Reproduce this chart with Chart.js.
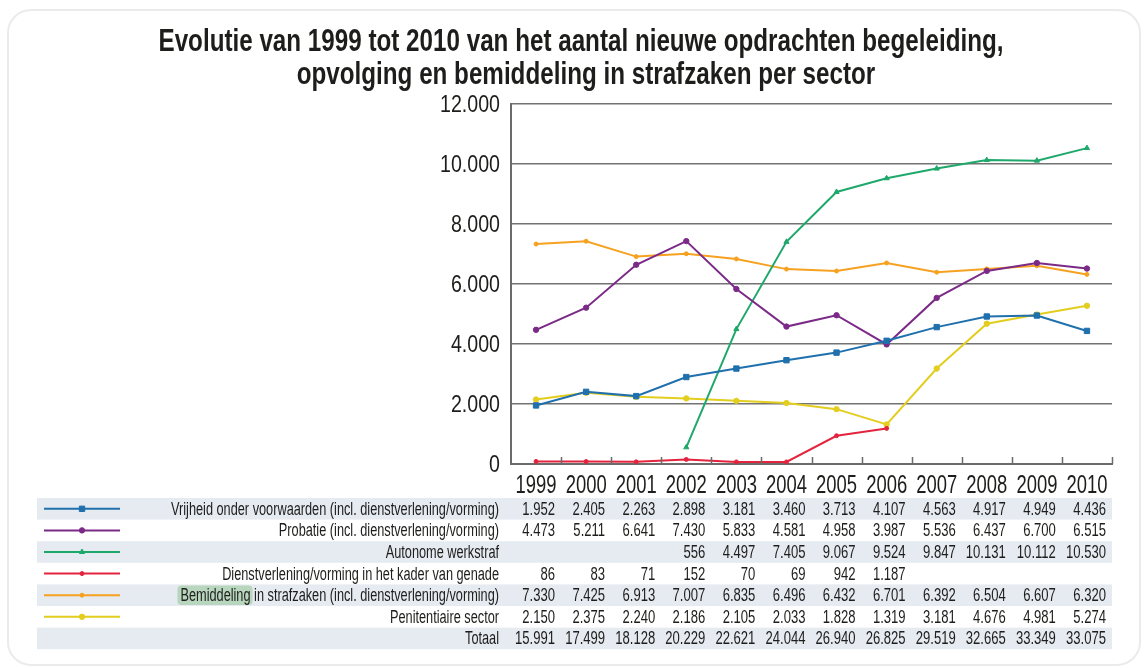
<!DOCTYPE html>
<html>
<head>
<meta charset="utf-8">
<script src="https://cdn.jsdelivr.net/npm/chart.js@4.4.0/dist/chart.umd.min.js"></script>
<style>
    html, body { margin: 0; padding: 0; background: #fff; }
    #card {
        position: absolute; left: 7px; top: 9px; width: 1134px; height: 657px;
        border: 2px solid #ebebeb; border-radius: 24px; box-sizing: border-box;
    }
    #wrap { position: absolute; left: 0; top: 0; width: 1147px; height: 668px; }
</style>
</head>
<body>
<div id="card"></div>
<div id="wrap"><canvas id="sectorChart"></canvas></div>
<script>
const titleLines = [
    'Evolutie van 1999 tot 2010 van het aantal nieuwe opdrachten begeleiding,',
    'opvolging en bemiddeling in strafzaken per sector'
];
const years = ['1999', '2000', '2001', '2002', '2003', '2004', '2005', '2006', '2007', '2008', '2009', '2010'];
const seriesLabels = [
    'Vrijheid onder voorwaarden (incl. dienstverlening/vorming)',
    'Probatie (incl. dienstverlening/vorming)',
    'Autonome werkstraf',
    'Dienstverlening/vorming in het kader van genade',
    'Bemiddeling in strafzaken (incl. dienstverlening/vorming)',
    'Penitentiaire sector'
];
const vrijheid = [1952, 2405, 2263, 2898, 3181, 3460, 3713, 4107, 4563, 4917, 4949, 4436];
const probatie = [4473, 5211, 6641, 7430, 5833, 4581, 4958, 3987, 5536, 6437, 6700, 6515];
const autonome = [null, null, null, 556, 4497, 7405, 9067, 9524, 9847, 10131, 10112, 10530];
const genade = [86, 83, 71, 152, 70, 69, 942, 1187, null, null, null, null];
const bemiddeling = [7330, 7425, 6913, 7007, 6835, 6496, 6432, 6701, 6392, 6504, 6607, 6320];
const penitentiair = [2150, 2375, 2240, 2186, 2105, 2033, 1828, 1319, 3181, 4676, 4981, 5274];
const totaalLabel = 'Totaal';
const totaal = [15991, 17499, 18128, 20229, 22621, 24044, 26940, 26825, 29519, 32665, 33349, 33075];
const yMin = 0, yMax = 12000, yStep = 2000;

const FONT = '"Liberation Sans Narrow", "Liberation Sans", Arial, sans-serif';
const TEXT = '#1d1d1b';

function fmt(v) {
    return String(v).replace(/\B(?=(\d{3})+(?!\d))/g, '.');
}

// styles per series, same order as seriesLabels
const looks = [
    { color: '#1f70ad', style: 'rect', r: 3.8 },
    { color: '#7b2a87', style: 'circle', r: 2.7 },
    { color: '#1fa86b', style: 'triangle', r: 3 },
    { color: '#e4243e', style: 'circle', r: 2 },
    { color: '#f6a11f', style: 'circle', r: 2 },
    { color: '#e3cd1e', style: 'circle', r: 2.7 }
];
const seriesData = [vrijheid, probatie, autonome, genade, bemiddeling, penitentiair];

// the original uses a condensed face; squeeze text horizontally to match
function drawSqueezed(c, text, x, y, align, sx) {
    c.save();
    c.translate(x, y);
    c.scale(sx, 1);
    c.textAlign = align;
    c.fillText(text, 0, 0);
    c.restore();
}

const titleAndTable = {
    id: 'titleAndTable',
    afterDraw(chart) {
        const c = chart.ctx;
        const xs = chart.scales.x;
        const ys = chart.scales.y;

        // title
        c.save();
        c.fillStyle = TEXT;
        c.textBaseline = 'alphabetic';
        c.font = 'bold 31px ' + FONT;
        const sxTitle = 845 / c.measureText(titleLines[0]).width;
        drawSqueezed(c, titleLines[0], 581, 51, 'center', sxTitle);
        drawSqueezed(c, titleLines[1], 586, 84, 'center', sxTitle);
        c.restore();

        // axis labels
        c.save();
        c.fillStyle = TEXT;
        c.textBaseline = 'middle';
        c.font = '24px ' + FONT;
        const sxY = 60 / c.measureText(fmt(yMax)).width;
        ys.ticks.forEach(t => {
            drawSqueezed(c, fmt(t.value), 500, ys.getPixelForValue(t.value) + 1, 'right', sxY);
        });
        c.font = '25px ' + FONT;
        const sxX = 41 / c.measureText(years[0]).width;
        years.forEach((yr, i) => {
            drawSqueezed(c, yr, xs.getPixelForValue(i), 486, 'center', sxX);
        });
        c.restore();

        // inward tick marks on the x axis
        c.save();
        c.strokeStyle = '#6b6b6b';
        c.lineWidth = 1.5;
        const step = xs.width / years.length;
        for (let i = 1; i <= years.length; i++) {
            const x = Math.round(xs.left + i * step) + 0.5;
            c.beginPath();
            c.moveTo(x, xs.top);
            c.lineTo(x, xs.top - 7);
            c.stroke();
        }
        c.restore();

        // data table
        const top = 498, rowH = 21.6, left = 37, right = 1112;
        const rows = seriesLabels.map((name, i) => ({ name, data: seriesData[i], look: looks[i] }));
        rows.push({ name: totaalLabel, data: totaal, look: null });

        c.save();
        c.font = '18px ' + FONT;
        const sxLabel = 328 / c.measureText(seriesLabels[0]).width;
        const sxNum = 40 / c.measureText(fmt(totaal[0])).width;
        c.textBaseline = 'middle';

        rows.forEach((row, r) => {
            const y = top + r * rowH;
            const cy = y + rowH / 2 + 1;
            if (r % 2 === 0) {
                c.fillStyle = '#e6eaf1';
                c.fillRect(left, y, right - left, rowH);
            }
            if (row.look) {
                c.strokeStyle = row.look.color;
                c.lineWidth = 2;
                c.beginPath();
                c.moveTo(44, cy - 1);
                c.lineTo(120, cy - 1);
                c.stroke();
                c.fillStyle = row.look.color;
                c.lineWidth = 1;
                Chart.helpers.drawPoint(c, {
                    pointStyle: row.look.style, radius: row.look.r, rotation: 0, borderWidth: 1
                }, 82, cy - 1);
            }
            // highlighted word
            if (r === 4) {
                const full = c.measureText(row.name).width * sxLabel;
                const word = c.measureText('Bemiddeling').width * sxLabel;
                const x0 = 499 - full;
                c.fillStyle = '#b8d6be';
                c.beginPath();
                c.roundRect(x0 - 3, y + 1, word + 5, rowH - 2, 4);
                c.fill();
            }
            c.fillStyle = TEXT;
            drawSqueezed(c, row.name, 499, cy, 'right', sxLabel);
            row.data.forEach((v, i) => {
                if (v === null) return;
                drawSqueezed(c, fmt(v), xs.getPixelForValue(i) + 19, cy, 'right', sxNum);
            });
        });
        c.restore();
    }
};

const ctx = document.getElementById('sectorChart').getContext('2d');
new Chart(ctx, {
    type: 'line',
    data: {
        labels: years,
        datasets: seriesLabels.map((name, i) => ({
            label: name,
            data: seriesData[i],
            borderColor: looks[i].color,
            backgroundColor: looks[i].color,
            pointBackgroundColor: looks[i].color,
            pointBorderColor: looks[i].color,
            pointStyle: looks[i].style,
            pointRadius: looks[i].r,
            pointBorderWidth: 1,
            borderWidth: 2,
            tension: 0,
            spanGaps: false
        }))
    },
    options: {
        responsive: true,
        maintainAspectRatio: false,
        animation: false,
        layout: { padding: { top: 104, right: 35, left: 0, bottom: 0 } },
        plugins: {
            legend: { display: false },
            tooltip: { enabled: false },
            title: { display: false }
        },
        scales: {
            x: {
                offset: true,
                grid: { display: false, drawTicks: false },
                border: { display: true, color: '#6b6b6b', width: 2 },
                ticks: { display: false, autoSkip: false, maxRotation: 0 },
                afterFit: function(scale) { scale.height = 204; }
            },
            y: {
                min: yMin,
                max: yMax,
                ticks: { display: false, stepSize: yStep },
                grid: { color: '#737373', lineWidth: 1.5, drawTicks: false },
                border: { display: true, color: '#6b6b6b', width: 2 },
                afterFit: function(scale) { scale.width = 511; }
            }
        }
    },
    plugins: [titleAndTable]
});
</script>
</body>
</html>
